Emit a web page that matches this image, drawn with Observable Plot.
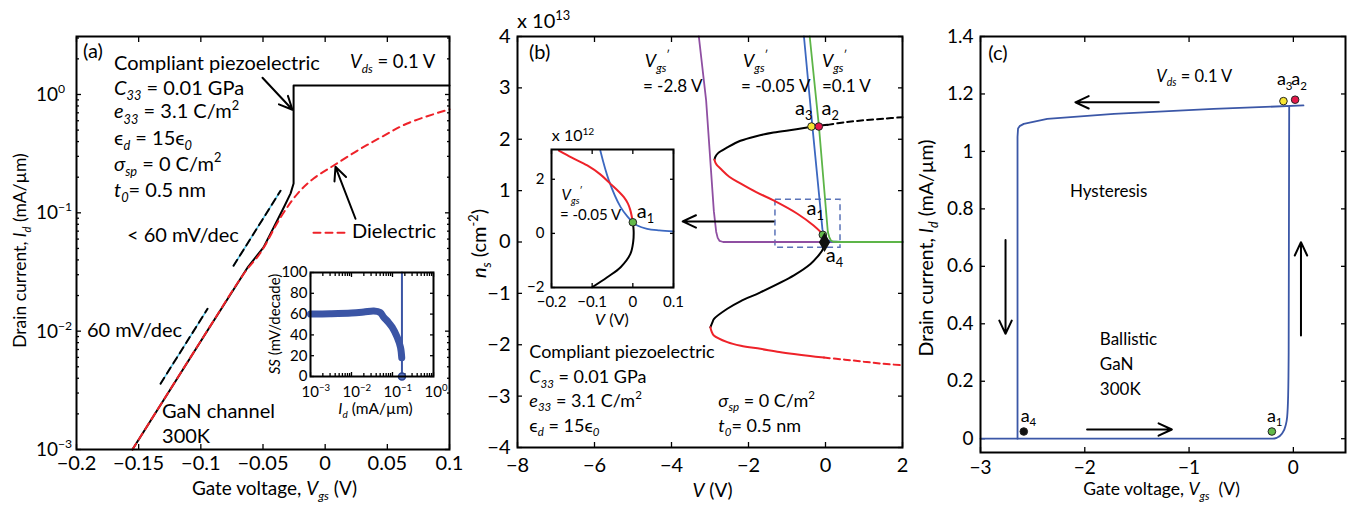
<!DOCTYPE html>
<html><head><meta charset="utf-8">
<script src="https://cdn.jsdelivr.net/npm/d3@7"></script>
<script src="https://cdn.jsdelivr.net/npm/@observablehq/plot@0.6"></script>
<style>
html,body{margin:0;padding:0;background:#fff;}
#root{position:relative;width:1366px;height:507px;overflow:hidden;font-family:Lato,sans-serif;}
#root svg{position:absolute;}
#root text{white-space:pre;}
</style></head><body><div id="root"></div>
<script>
// ---------------- Panel (a) data ----------------
const aTicksX = [-0.2, -0.15, -0.1, -0.05, 0, 0.05, 0.1];
const aTicksY = [1e-3, 1e-2, 1e-1, 1e0];
const aTickLabelsY = ["10^{−3}", "10^{−2}", "10^{−1}", "10^{0}"];
const piezoV = [-0.155, -0.095, -0.062, -0.0496, -0.0415, -0.0333, -0.0278, -0.0254, -0.0254, 0.1];
const piezoI = [0.001, 0.01, 0.035, 0.051, 0.075, 0.111, 0.146, 0.177, 1.19, 1.19];
const dielV = [-0.155, -0.095, -0.065, -0.052, -0.036, -0.022, -0.0093, 0.0068, 0.026, 0.0446, 0.066, 0.1];
const dielI = [0.001, 0.01, 0.031, 0.046, 0.091, 0.146, 0.195, 0.251, 0.336, 0.433, 0.569, 0.75];
const ref60V = [-0.1324, -0.0946];
const ref60I = [0.0036, 0.01545];
const refLtV = [-0.0737, -0.0359];
const refLtI = [0.0357, 0.1535];
// inset (a): subthreshold swing
const ssTicksX = [1e-3, 1e-2, 1e-1, 1e0];
const ssTickLabelsX = ["10^{−3}", "10^{−2}", "10^{−1}", "10^{0}"];
const ssTicksY = [0, 20, 40, 60, 80, 100];
const ssI = [0.001, 0.003, 0.01, 0.02, 0.035, 0.05, 0.061, 0.08, 0.098, 0.13, 0.157, 0.168];
const ssVal = [60, 60.3, 61, 62, 63, 61.5, 57, 52, 47.4, 37.8, 28, 18];
const ssJumpI = [0.17, 0.17];
const ssJumpVal = [0, 100];

// ---------------- Panel (b) data ----------------
const bTicksX = [-8, -6, -4, -2, 0, 2];
const bTicksY = [-4, -3, -2, -1, 0, 1, 2, 3, 4];
const upperDashV = [0.05, 0.5, 1, 1.5, 2];
const upperDashN = [2.28, 2.33, 2.37, 2.40, 2.43];
const upperBlackV = [0.05, -0.34, -0.8, -1.35, -1.8, -2.21, -2.55, -2.79, -2.86, -2.883];
const upperBlackN = [2.28, 2.245, 2.19, 2.13, 2.06, 1.97, 1.84, 1.73, 1.66, 1.603];
const upperRedV = [-2.883, -2.86, -2.825, -2.73, -2.5, -2.21, -1.8, -1.35, -0.73, -0.31, -0.08];
const upperRedN = [1.603, 1.545, 1.5, 1.43, 1.27, 1.14, 0.97, 0.81, 0.55, 0.32, 0.16];
const midBlackV = [-0.08, -0.05, -0.035, -0.04, -0.06, -0.086, -0.2, -0.39, -0.82, -1.69, -2.2, -2.55, -2.9, -2.93, -2.99];
const midBlackN = [0.16, 0.08, 0, -0.06, -0.12, -0.167, -0.28, -0.43, -0.65, -0.98, -1.15, -1.30, -1.50, -1.55, -1.66];
const lowerRedV = [-2.99, -2.96, -2.9, -2.55, -2.2, -1.69, -1.2, -0.82, -0.4, -0.04];
const lowerRedN = [-1.66, -1.74, -1.82, -1.95, -2.02, -2.08, -2.14, -2.18, -2.22, -2.25];
const lowerDashV = [-0.04, 0.5, 1, 1.5, 2];
const lowerDashN = [-2.25, -2.29, -2.33, -2.37, -2.40];
const purpleV = [-3.29, -3.1, -2.9, -2.84, -2.8, -2.75, -2.66, 2];
const purpleN = [4, 2.75, 0.6, 0.2, 0.08, 0.02, 0, 0];
const blueV = [-0.56, -0.34, -0.08, -0.04, 0.0, 0.05, 0.15, 0.4, 2];
const blueN = [4, 2.245, 0.25, 0.12, 0.06, 0.03, 0.01, 0, 0];
const greenV = [-0.41, -0.17, 0.06, 0.1, 0.14, 0.2, 0.4, 2];
const greenN = [4, 2.245, 0.2, 0.09, 0.03, 0.005, 0, 0];
const bPointLabels = ["a3", "a2", "a1", "a4"];
const bPointV = [-0.364, -0.174, -0.07, -0.026];
const bPointN = [2.248, 2.248, 0.14, -0.004];
// inset (b)
const ibTicksX = [-0.2, -0.1, 0, 0.1];
const ibTicksY = [-2, 0, 2];
const ibRedV = [-0.182, -0.15, -0.112, -0.08, -0.055, -0.035, -0.022, -0.012, -0.006, 0];
const ibRedN = [3.06, 2.8, 2.51, 2.18, 1.83, 1.55, 1.34, 1.1, 0.85, 0.41];
const ibBlueV = [-0.08, -0.059, -0.03, -0.012, 0, 0.011, 0.035, 0.065, 0.1];
const ibBlueN = [3.06, 1.96, 0.97, 0.6, 0.41, 0.29, 0.17, 0.11, 0.07];
const ibBlackV = [0, 0.002, 0.001, -0.006, -0.03, -0.063, -0.1];
const ibBlackN = [0.41, 0.1, -0.3, -0.76, -1.25, -1.62, -1.99];

// ---------------- Panel (c) data ----------------
const cTicksX = [-3, -2, -1, 0];
const cTicksY = [0, 0.2, 0.4, 0.6, 0.8, 1, 1.2, 1.4];
const loopLowV = [-3, -0.2, -0.16, -0.11, -0.075, -0.06, -0.05, -0.045, -0.04];
const loopLowI = [0, 0, 0.003, 0.017, 0.045, 0.074, 0.15, 0.3, 1.156];
const loopTopV = [0.097, -0.765, -1.72, -2.36, -2.585, -2.625, -2.64, -2.645, -2.645];
const loopTopI = [1.16, 1.148, 1.131, 1.113, 1.096, 1.088, 1.08, 1.05, 0];
const cPointLabels = ["a3", "a2", "a4", "a1"];
const cPointV = [-0.095, 0.017, -2.585, -0.206];
const cPointI = [1.175, 1.18, 0.025, 0.025];

// ---------------- styling ----------------
const FONT = "Lato, 'Open Sans', sans-serif";
const RED = "#ee2229", CYAN = "#5ac6ea", PURPLE = "#8f4fa2", BLUEB = "#3c68c0", GREEN = "#5db548", BLUEC = "#3b57a7";
const POINT_FILL = {a1: "#62b94a", a2: "#e3184a", a3: "#f8e631", a4: "#111"};
const fmt = d3.format("~g");
const blank = () => "";
const pts = (xs, ys) => xs.map((x, i) => ({x, y: ys[i]}));
const baseStyle = fs => ({fontFamily: FONT, fontSize: fs + "px", background: "transparent", overflow: "visible", color: "black"});

function boxAxes({xTicks, yTicks, xMinor = [], yMinor = [], xFmt = blank, yFmt = blank, xPad = 10, yPad = 10, size = 5, fontSize = 19}) {
  const c = {label: null, color: "black", strokeWidth: 1.3, fontSize};
  const m = [
    Plot.axisX({...c, anchor: "bottom", ticks: xTicks, tickSize: -size, tickPadding: xPad, tickFormat: xFmt}),
    Plot.axisX({...c, anchor: "top", ticks: xTicks, tickSize: -size, tickFormat: blank}),
    Plot.axisY({...c, anchor: "left", ticks: yTicks, tickSize: -size, tickPadding: yPad, tickFormat: yFmt}),
    Plot.axisY({...c, anchor: "right", ticks: yTicks, tickSize: -size, tickFormat: blank})
  ];
  if (yMinor.length) {
    m.push(Plot.axisY({...c, anchor: "left", ticks: yMinor, tickSize: -3, tickFormat: blank}));
    m.push(Plot.axisY({...c, anchor: "right", ticks: yMinor, tickSize: -3, tickFormat: blank}));
  }
  if (xMinor.length) {
    m.push(Plot.axisX({...c, anchor: "bottom", ticks: xMinor, tickSize: -3, tickFormat: blank}));
    m.push(Plot.axisX({...c, anchor: "top", ticks: xMinor, tickSize: -3, tickFormat: blank}));
  }
  return m;
}
const root = document.getElementById("root");
function place(plot, left, top) {
  plot.style.left = left + "px"; plot.style.top = top + "px";
  root.appendChild(plot);
  const sx = plot.scale("x"), sy = plot.scale("y");
  const f = (xv, yv) => [left + sx.apply(xv), top + sy.apply(yv)];
  f.xr = sx.range.map(v => v + left); f.yr = sy.range.map(v => v + top);
  return f;
}

// ---------------- Panel (a) ----------------
const aMinorY = [];
for (const d of [1e-3, 1e-2, 1e-1, 1e0]) for (let k = 2; k <= 9; k++) if (d * k < 3.09) aMinorY.push(d * k);
const annA = {
  arrowPiezo: {x1: -0.0504, y1: 1.384, x2: -0.0263, y2: 0.743},
  arrowDiel: {x1: 0.0244, y1: 0.0891, x2: 0.0083, y2: 0.245},
  legendDash: {x1: -0.0094, x2: 0.0164, y: 0.0679}
};
const A = Plot.plot({
  width: 460, height: 507, marginLeft: 76, marginRight: 11, marginTop: 36, marginBottom: 58,
  x: {domain: [-0.2, 0.1]}, y: {type: "log", domain: [0.001, 3.09]},
  style: baseStyle(20),
  marks: [
    ...boxAxes({xTicks: aTicksX, yTicks: aTicksY, yMinor: aMinorY, xFmt: fmt, xPad: 11, fontSize: 20}),
    Plot.line(pts(ref60V, ref60I), {x: "x", y: "y", stroke: CYAN, strokeWidth: 1.6}),
    Plot.line(pts(ref60V, ref60I), {x: "x", y: "y", stroke: "black", strokeWidth: 2, strokeDasharray: "7,5"}),
    Plot.line(pts(refLtV, refLtI), {x: "x", y: "y", stroke: CYAN, strokeWidth: 1.6}),
    Plot.line(pts(refLtV, refLtI), {x: "x", y: "y", stroke: "black", strokeWidth: 2, strokeDasharray: "7,5"}),
    Plot.line(pts(piezoV, piezoI), {x: "x", y: "y", stroke: "black", strokeWidth: 2, curve: "linear"}),
    Plot.line(pts(dielV, dielI), {x: "x", y: "y", stroke: RED, strokeWidth: 2, strokeDasharray: "7,5", curve: "catmull-rom"}),
    Plot.line([{x: annA.legendDash.x1, y: annA.legendDash.y}, {x: annA.legendDash.x2, y: annA.legendDash.y}], {x: "x", y: "y", stroke: RED, strokeWidth: 2, strokeDasharray: "7,5"}),
    Plot.arrow([annA.arrowPiezo, annA.arrowDiel], {x1: "x1", y1: "y1", x2: "x2", y2: "y2", stroke: "black", strokeWidth: 2, headLength: 11, headAngle: 50}),
    Plot.frame({stroke: "black", strokeWidth: 2})
  ]
});
const pa = place(A, 0, 0);

// inset (a)
const ssMinorX = [];
for (const d of [1e-3, 1e-2, 1e-1]) for (let k = 2; k <= 9; k++) ssMinorX.push(d * k);
const IA = Plot.plot({
  width: 200, height: 170, marginLeft: 60, marginRight: 17, marginTop: 22, marginBottom: 44,
  x: {type: "log", domain: [1e-3, 1]}, y: {domain: [0, 100]},
  style: baseStyle(15),
  marks: [
    Plot.frame({fill: "white", stroke: "none"}),
    ...boxAxes({xTicks: ssTicksX, yTicks: ssTicksY, xMinor: ssMinorX, yFmt: fmt, yPad: 7, size: 4, fontSize: 15}),
    Plot.line(pts(ssJumpI, ssJumpVal), {x: "x", y: "y", stroke: "#3b55a5", strokeWidth: 2}),
    Plot.line(pts(ssI, ssVal), {x: "x", y: "y", stroke: "#3b55a5", strokeWidth: 7, strokeLinecap: "round", curve: "catmull-rom"}),
    Plot.dot([{x: ssJumpI[0], y: 0}], {x: "x", y: "y", r: 3.5, fill: "#5b74c0", stroke: "#2c4592", strokeWidth: 1.5}),
    Plot.frame({stroke: "black", strokeWidth: 2})
  ]
});
const pia = place(IA, 250, 250);

// ---------------- Panel (b) ----------------
const annB = {
  zoomBox: {x1: -1.30, x2: 0.39, y1: -0.113, y2: 0.821},
  arrow: {x1: -1.35, x2: -3.71, y1: 0.40, y2: 0.40}
};
const B = Plot.plot({
  width: 460, height: 507, marginLeft: 57, marginRight: 18, marginTop: 36, marginBottom: 60,
  x: {domain: [-8, 2]}, y: {domain: [-4, 4]},
  style: baseStyle(20),
  marks: [
    ...boxAxes({xTicks: bTicksX, yTicks: bTicksY, xFmt: fmt, yFmt: fmt, xPad: 15, yPad: 12, fontSize: 20}),
    Plot.rect([annB.zoomBox], {x1: "x1", x2: "x2", y1: "y1", y2: "y2", fill: "none", stroke: "#5a73b8", strokeWidth: 1.5, strokeDasharray: "6,4"}),
    Plot.line(pts(purpleV, purpleN), {x: "x", y: "y", stroke: PURPLE, strokeWidth: 1.8}),
    Plot.line(pts(blueV, blueN), {x: "x", y: "y", stroke: BLUEB, strokeWidth: 1.8}),
    Plot.line(pts(greenV, greenN), {x: "x", y: "y", stroke: GREEN, strokeWidth: 1.8}),
    Plot.line(pts(upperDashV, upperDashN), {x: "x", y: "y", stroke: "black", strokeWidth: 2, strokeDasharray: "6,4", curve: "catmull-rom"}),
    Plot.line(pts(upperBlackV, upperBlackN), {x: "x", y: "y", stroke: "black", strokeWidth: 2, curve: "catmull-rom"}),
    Plot.line(pts(upperRedV, upperRedN), {x: "x", y: "y", stroke: RED, strokeWidth: 2, curve: "catmull-rom"}),
    Plot.line(pts(midBlackV, midBlackN), {x: "x", y: "y", stroke: "black", strokeWidth: 2, curve: "catmull-rom"}),
    Plot.line(pts(lowerRedV, lowerRedN), {x: "x", y: "y", stroke: RED, strokeWidth: 2, curve: "catmull-rom"}),
    Plot.line(pts(lowerDashV, lowerDashN), {x: "x", y: "y", stroke: RED, strokeWidth: 2, strokeDasharray: "6,4", curve: "catmull-rom"}),
    Plot.arrow([annB.arrow], {x1: "x1", y1: "y1", x2: "x2", y2: "y2", stroke: "black", strokeWidth: 2, headLength: 11, headAngle: 50}),
    Plot.dot(bPointLabels.map((l, i) => ({l, x: bPointV[i], y: bPointN[i]})).filter(d => d.l !== "a4"),
      {x: "x", y: "y", r: 3.8, fill: d => POINT_FILL[d.l], stroke: "#222", strokeWidth: 1}),
    Plot.dot(bPointLabels.map((l, i) => ({l, x: bPointV[i], y: bPointN[i]})).filter(d => d.l === "a4"),
      {x: "x", y: "y", r: 5, symbol: "diamond", fill: "#111", stroke: "#111"}),
    Plot.frame({stroke: "black", strokeWidth: 2})
  ]
});
const pb = place(B, 460, 0);

const IB = Plot.plot({
  width: 190, height: 200, marginLeft: 51, marginRight: 17, marginTop: 19, marginBottom: 43,
  x: {domain: [-0.2, 0.1]}, y: {domain: [-2, 3.1]},
  style: baseStyle(16),
  marks: [
    Plot.frame({fill: "white", stroke: "none"}),
    ...boxAxes({xTicks: ibTicksX, yTicks: ibTicksY, xFmt: fmt, yFmt: fmt, xPad: 13, yPad: 11, size: 4, fontSize: 15}),
    Plot.line(pts(ibBlueV, ibBlueN), {x: "x", y: "y", stroke: BLUEB, strokeWidth: 1.8, curve: "catmull-rom"}),
    Plot.line(pts(ibRedV, ibRedN), {x: "x", y: "y", stroke: RED, strokeWidth: 2, curve: "catmull-rom"}),
    Plot.line(pts(ibBlackV, ibBlackN), {x: "x", y: "y", stroke: "black", strokeWidth: 2, curve: "catmull-rom"}),
    Plot.dot([{x: 0, y: 0.41}], {x: "x", y: "y", r: 3.8, fill: POINT_FILL.a1, stroke: "#222", strokeWidth: 1}),
    Plot.frame({stroke: "black", strokeWidth: 2})
  ]
});
const pib = place(IB, 500, 130);

// ---------------- Panel (c) ----------------
const annC = {
  arrows: [
    {x1: -1.29, y1: 1.171, x2: -2.09, y2: 1.171},
    {x1: -2.76, y1: 0.692, x2: -2.76, y2: 0.365},
    {x1: 0.073, y1: 0.359, x2: 0.073, y2: 0.684},
    {x1: -1.978, y1: 0.032, x2: -1.165, y2: 0.032}
  ]
};
const C = Plot.plot({
  width: 446, height: 507, marginLeft: 60, marginRight: 21, marginTop: 36, marginBottom: 55,
  x: {domain: [-3, 0.5]}, y: {domain: [-0.048, 1.4]},
  style: baseStyle(19),
  marks: [
    ...boxAxes({xTicks: cTicksX, yTicks: cTicksY, xFmt: fmt, yFmt: fmt, xPad: 13, yPad: 12, fontSize: 19}),
    Plot.line(pts(loopLowV, loopLowI), {x: "x", y: "y", stroke: BLUEC, strokeWidth: 1.8, curve: "monotone-x"}),
    Plot.line(pts(loopTopV, loopTopI), {x: "x", y: "y", stroke: BLUEC, strokeWidth: 1.8}),
    Plot.arrow(annC.arrows, {x1: "x1", y1: "y1", x2: "x2", y2: "y2", stroke: "black", strokeWidth: 2, headLength: 11, headAngle: 50}),
    Plot.dot(cPointLabels.map((l, i) => ({l, x: cPointV[i], y: cPointI[i]})),
      {x: "x", y: "y", r: 3.8, fill: d => POINT_FILL[d.l], stroke: "#222", strokeWidth: 1}),
    Plot.frame({stroke: "black", strokeWidth: 2})
  ]
});
const pc = place(C, 920, 0);

// ---------------- Text overlay ----------------
const ov = d3.select(root).append("svg").attr("width", 1366).attr("height", 507)
  .style("left", "0px").style("top", "0px").style("pointer-events", "none");
function rich(x, y, str, {size = 20, anchor = "start", rotate = 0} = {}) {
  const t = ov.append("text").attr("x", x).attr("y", y).attr("font-size", size)
    .attr("text-anchor", anchor).attr("fill", "black").attr("font-family", FONT);
  if (rotate) t.attr("transform", `rotate(${rotate} ${x} ${y})`);
  const runs = []; let italic = false, level = 0, buf = "";
  const flush = () => { if (buf) runs.push({text: buf, italic, level}); buf = ""; };
  for (let i = 0; i < str.length; i++) {
    const c = str[i];
    if (c === "*") { flush(); italic = !italic; }
    else if ((c === "_" || c === "^") && str[i + 1] === "{") { flush(); level = c === "_" ? 1 : -1; i++; }
    else if (c === "}" && level !== 0) { flush(); level = 0; }
    else buf += c;
  }
  flush();
  let cur = 0;
  for (const r of runs) {
    const target = r.level === 1 ? size * 0.26 : r.level === -1 ? -size * 0.42 : 0;
    t.append("tspan").attr("dy", target - cur).attr("font-size", r.level ? size * 0.64 : size)
      .attr("font-style", r.italic ? "italic" : "normal").text(r.text);
    cur = target;
  }
  return t;
}
const T = (p, xv, yv, s, o) => { const [x, y] = p(xv, yv); return rich(x, y, s, o); };

// (a) texts
aTicksY.forEach((v, i) => { const [, y] = pa(-0.2, v); rich(pa.xr[0] - 40, y + 7, aTickLabelsY[i], {size: 19}); });
const aText = [
  [-0.1944, 2.0, "(a)", 20],
  [-0.1694, 1.585, "Compliant piezoelectric", 20],
  [-0.1694, 0.975, "*C*_{*33*} = 0.01 GPa", 20],
  [-0.1694, 0.623, "*e*_{*33*} = 3.1 C/m^{2}", 20],
  [-0.1694, 0.374, "ϵ_{*d*} = 15ϵ_{*0*}", 20],
  [-0.1694, 0.225, "*σ*_{*sp*} = 0 C/m^{2}", 20],
  [-0.1694, 0.136, "*t*_{*0*}= 0.5 nm", 20],
  [0.0204, 1.648, "*V*_{*ds*} = 0.1 V", 18.5],
  [-0.159, 0.0559, "< 60 mV/dec", 20],
  [0.022, 0.0604, "Dielectric", 20],
  [-0.1912, 0.00881, "60 mV/dec", 20],
  [-0.1308, 0.001824, "GaN channel", 20],
  [-0.1308, 0.001122, "300K", 20]
];
aText.forEach(([x, y, s, sz]) => T(pa, x, y, s, {size: sz}));
rich((pa.xr[0] + pa.xr[1]) / 2 + 12, 495, "Gate voltage, *V*_{*gs*} (V)", {size: 19, anchor: "middle"});
rich(26, (pa.yr[0] + pa.yr[1]) / 2 + 8, "Drain current, *I*_{*d*} (mA/µm)", {size: 17.5, anchor: "middle", rotate: -90});
// inset (a) texts
ssTicksX.forEach((v, i) => { const [x] = pia(v, 0); rich(x - 8.5, pia.yr[0] + 21, ssTickLabelsX[i], {size: 15}); });
rich((pia.xr[0] + pia.xr[1]) / 2 + 4, 414, "*I*_{*d*} (mA/µm)", {size: 15.5, anchor: "middle"});
rich(280, (pia.yr[0] + pia.yr[1]) / 2, "*SS* (mV/decade)", {size: 15, anchor: "middle", rotate: -90});

// (b) texts
const bText = [
  [-8, 4.156, "x 10^{13}", 20],
  [-7.69, 3.55, "(b)", 20],
  [-4.68, 3.40, "*V*_{*gs*}^{′}", 18],
  [-4.73, 2.91, "= -2.8 V", 17],
  [-2.13, 3.40, "*V*_{*gs*}^{′}", 18],
  [-2.18, 2.91, "= -0.05 V", 17],
  [-0.08, 3.40, "*V*_{*gs*}^{′}", 18],
  [-0.08, 2.91, "=0.1 V", 17],
  [-0.78, 2.46, "a_{3}", 20],
  [-0.09, 2.46, "a_{2}", 20],
  [-0.48, 0.516, "a_{1}", 20],
  [0.02, -0.393, "a_{4}", 20],
  [-7.68, -2.273, "Compliant piezoelectric", 18],
  [-7.68, -2.76, "*C*_{*33*} = 0.01 GPa", 18],
  [-7.68, -3.216, "*e*_{*33*} = 3.1 C/m^{2}", 18],
  [-7.68, -3.70, "ϵ_{*d*} = 15ϵ_{*0*}", 18],
  [-2.77, -3.216, "*σ*_{*sp*} = 0 C/m^{2}", 18],
  [-2.77, -3.70, "*t*_{*0*}= 0.5 nm", 18]
];
bText.forEach(([x, y, s, sz]) => T(pb, x, y, s, {size: sz}));
rich((pb.xr[0] + pb.xr[1]) / 2 + 3, 497, "*V* (V)", {size: 19, anchor: "middle"});
rich(486, (pb.yr[0] + pb.yr[1]) / 2 + 2, "*n*_{*s*} (cm^{-2})", {size: 20, anchor: "middle", rotate: -90});
// inset (b) texts
const ibText = [
  [-0.198, 3.38, "x 10^{12}", 16],
  [-0.174, 1.22, "*V*_{*gs*}^{′}", 15],
  [-0.178, 0.48, "= -0.05 V", 15],
  [0.011, 0.54, "a_{1}", 20]
];
ibText.forEach(([x, y, s, sz]) => T(pib, x, y, s, {size: sz}));
rich((pib.xr[0] + pib.xr[1]) / 2, 325, "*V* (V)", {size: 16, anchor: "middle"});

// (c) texts
const cText = [
  [-2.92, 1.316, "(c)", 20],
  [-1.31, 1.24, "*V*_{*ds*} = 0.1 V", 16.5],
  [-0.153, 1.229, "a_{3}", 18],
  [-0.016, 1.229, "a_{2}", 18],
  [-2.138, 0.84, "Hysteresis", 17],
  [-1.851, 0.325, "Ballistic", 17],
  [-1.851, 0.238, "GaN", 17],
  [-1.851, 0.151, "300K", 17],
  [-2.61, 0.058, "a_{4}", 18],
  [-0.249, 0.058, "a_{1}", 18]
];
cText.forEach(([x, y, s, sz]) => T(pc, x, y, s, {size: sz}));
rich((pc.xr[0] + pc.xr[1]) / 2 - 1, 495, "Gate voltage, *V*_{*gs*}  (V)", {size: 17.5, anchor: "middle"});
rich(933, (pc.yr[0] + pc.yr[1]) / 2 + 4, "Drain current, *I*_{*d*} (mA/µm)", {size: 19.5, anchor: "middle", rotate: -90});
</script></body></html>
